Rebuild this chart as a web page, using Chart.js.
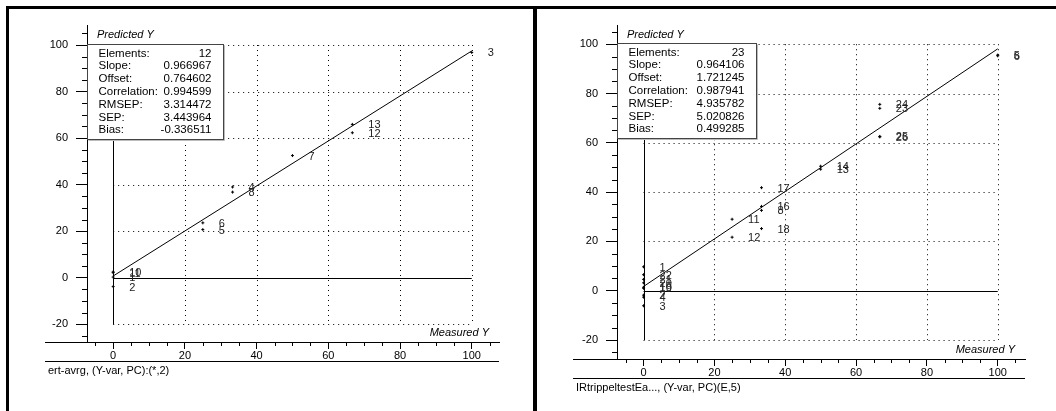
<!DOCTYPE html>
<html>
<head>
<meta charset="utf-8">
<script src="https://cdn.jsdelivr.net/npm/chart.js@4/dist/chart.umd.min.js"></script>
<style>
  body { margin: 0; background: #fff; width: 1056px; height: 411px; position: relative; overflow: hidden; }
  .bar { position: absolute; background: #000; }
  .panel { position: absolute; top: 9px; height: 402px; }
  canvas { display: block; }
</style>
</head>
<body>
<div class="bar" style="left:6px;top:6px;width:1050px;height:3px"></div>
<div class="bar" style="left:6px;top:6px;width:3px;height:405px"></div>
<div class="bar" style="left:533px;top:6px;width:4px;height:405px"></div>
<div class="panel" style="left:9px;width:524px"><canvas id="left" width="524" height="402"></canvas></div>
<div class="panel" style="left:537px;width:519px"><canvas id="right" width="519" height="402"></canvas></div>
<script>
// axis ticks (shared by both plots)
const xTicks = [0, 20, 40, 60, 80, 100];
const yTicks = [-20, 0, 20, 40, 60, 80, 100];
const minorStep = 5;

const statNames = ["Elements:", "Slope:", "Offset:", "Correlation:", "RMSEP:", "SEP:", "Bias:"];

// left plot
const leftIds = ["1", "2", "3", "4", "5", "6", "7", "8", "10", "11", "12", "13"];
const leftMeasured = [0, 0, 100, 33.3, 25, 25, 50, 33.3, 0, 0, 66.7, 66.7];
const leftPredicted = [0.3, -3.8, 96.8, 39.0, 20.7, 23.6, 52.5, 36.8, 2.5, 2.2, 62.3, 65.9];
const leftFitX = [0, 100];
const leftFitY = [0.76, 97.46];
const leftStats = ["12", "0.966967", "0.764602", "0.994599", "3.314472", "3.443964", "-0.336511"];
const leftCaption = "ert-avrg, (Y-var, PC):(*,2)";

// right plot
const rightIds = ["1", "2", "3", "4", "5", "6", "8", "10", "11", "12", "13", "14", "16", "17", "18",
  "19", "20", "21", "22", "23", "24", "25", "26"];
const rightMeasured = [0, 0, 0, 0, 100, 100, 33.3, 0, 25, 25, 50, 50, 33.3, 33.3, 33.3,
  0, 0, 0, 0, 66.7, 66.7, 66.7, 66.7];
const rightPredicted = [9.7, -1.8, -6.1, -2.6, 95.6, 95.3, 32.6, 1.4, 29.0, 21.7, 49.3, 50.5, 34.2, 41.8, 25.2,
  1.0, 3.2, 4.6, 6.5, 74.0, 75.6, 62.6, 62.4];
const rightFitX = [0, 100];
const rightFitY = [1.72, 98.13];
const rightStats = ["23", "0.964106", "1.721245", "0.987941", "4.935782", "5.020826", "0.499285"];
const rightCaption = "IRtrippeltestEa..., (Y-var, PC)(E,5)";

const FONT = '"Liberation Sans", Arial, sans-serif';

function hline(ctx, x1, x2, y) {
  y = Math.round(y) + 0.5;
  ctx.beginPath(); ctx.moveTo(x1, y); ctx.lineTo(x2, y); ctx.stroke();
}
function vline(ctx, x, y1, y2) {
  x = Math.round(x) + 0.5;
  ctx.beginPath(); ctx.moveTo(x, y1); ctx.lineTo(x, y2); ctx.stroke();
}

const predPlot = {
  id: "predPlot",
  beforeDatasetsDraw(chart) {
    const { ctx, scales: { x, y } } = chart;
    const x0 = x.getPixelForValue(0), x100 = x.getPixelForValue(100);
    const yLo = y.getPixelForValue(-20), yHi = y.getPixelForValue(100);
    ctx.save();
    ctx.strokeStyle = "#000";
    ctx.lineWidth = 1;
    ctx.setLineDash([1, 4]);
    xTicks.filter(v => v !== 0).forEach(v => vline(ctx, x.getPixelForValue(v), yHi, yLo));
    yTicks.filter(v => v !== 0).forEach(v => hline(ctx, x0, x100, y.getPixelForValue(v)));
    ctx.setLineDash([]);
    vline(ctx, x0, yHi, yLo);
    hline(ctx, x0, x100, y.getPixelForValue(0));
    ctx.restore();
  },
  afterDatasetsDraw(chart, args, opts) {
    const { ctx, chartArea: a, scales: { y } } = chart;
    const meta = chart.getDatasetMeta(0);
    ctx.save();
    ctx.font = "11px " + FONT;
    ctx.fillStyle = "#222";
    ctx.textBaseline = "middle";
    meta.data.forEach((pt, i) => ctx.fillText(opts.ids[i], pt.x + 16, pt.y + 1));

    // statistics box
    const bx = Math.round(a.left) + 0.5, by = Math.round(y.getPixelForValue(100)) - 0.5;
    const bw = opts.boxWidth, bh = 95;
    ctx.fillStyle = "#fff";
    ctx.fillRect(bx, by, bw, bh);
    ctx.strokeStyle = "#bbb";
    ctx.beginPath();
    ctx.moveTo(bx + bw + 1, by + 1); ctx.lineTo(bx + bw + 1, by + bh + 1); ctx.lineTo(bx + 1, by + bh + 1);
    ctx.stroke();
    ctx.strokeStyle = "#444";
    ctx.strokeRect(bx, by, bw, bh);
    ctx.fillStyle = "#000";
    ctx.font = "11.5px " + FONT;
    statNames.forEach((name, i) => {
      const ty = by + 9 + i * 12.8;
      ctx.textAlign = "left";
      ctx.fillText(name, bx + 11, ty);
      ctx.textAlign = "right";
      ctx.fillText(opts.stats[i], bx + bw - 12, ty);
    });
    ctx.restore();
  },
  afterDraw(chart, args, opts) {
    const { ctx, chartArea: a, scales: { x, y } } = chart;
    ctx.save();
    ctx.strokeStyle = "#000";
    ctx.lineWidth = 1;
    // minor ticks
    for (let v = -25; v <= 105; v += minorStep) {
      if (!xTicks.includes(v) && v >= x.min && v <= x.max) vline(ctx, x.getPixelForValue(v), a.bottom, a.bottom + 4);
      if (!yTicks.includes(v) && v >= y.min && v <= y.max) hline(ctx, a.left - 5, a.left, y.getPixelForValue(v));
    }
    // axis line running under the tick labels, and the line below them
    hline(ctx, 36, a.left, a.bottom);
    hline(ctx, 36, a.right, a.bottom + 19);
    ctx.fillStyle = "#000";
    ctx.textBaseline = "middle";
    ctx.font = "italic 11px " + FONT;
    ctx.textAlign = "left";
    ctx.fillText("Predicted Y", a.left + 10, a.top + 10);
    ctx.textAlign = "right";
    ctx.fillText("Measured Y", a.right - 10, a.bottom - 9);
    ctx.font = "11px " + FONT;
    ctx.textAlign = "left";
    ctx.fillText(opts.caption, 39, a.bottom + 29);
    ctx.restore();
  }
};

function makePlot(id, meas, pred, fitX, fitY, ids, stats, caption, view) {
  new Chart(document.getElementById(id), {
    type: "scatter",
    data: {
      datasets: [
        {
          data: meas.map((m, i) => ({ x: m, y: pred[i] })),
          pointStyle: "cross",
          pointRadius: 1.5,
          pointBorderWidth: 1,
          borderColor: "#000",
          backgroundColor: "#000"
        },
        {
          type: "line",
          data: fitX.map((m, i) => ({ x: m, y: fitY[i] })),
          borderColor: "#000",
          borderWidth: 1,
          pointRadius: 0,
          fill: false
        }
      ]
    },
    options: {
      responsive: false,
      animation: false,
      layout: { padding: view.padding },
      plugins: {
        legend: { display: false },
        tooltip: { enabled: false },
        predPlot: { ids: ids, stats: stats, caption: caption, boxWidth: view.boxWidth }
      },
      scales: {
        x: {
          type: "linear",
          min: view.x[0],
          max: view.x[1],
          afterBuildTicks: s => { s.ticks = xTicks.map(v => ({ value: v })); },
          afterFit: s => { s.height = 20; },
          grid: { drawOnChartArea: false, drawTicks: true, tickLength: 7, color: "#000" },
          border: { display: true, color: "#000" },
          ticks: { padding: 0, color: "#000", font: { family: FONT, size: 11 }, maxRotation: 0, autoSkip: false,
                   callback: v => String(v) }
        },
        y: {
          type: "linear",
          min: view.y[0],
          max: view.y[1],
          afterBuildTicks: s => { s.ticks = yTicks.map(v => ({ value: v })); },
          afterFit: s => { s.width = 60; },
          grid: { drawOnChartArea: false, drawTicks: true, tickLength: 11, color: "#000" },
          border: { display: true, color: "#000" },
          ticks: { padding: 8, color: "#000", font: { family: FONT, size: 11 }, autoSkip: false,
                   callback: v => String(v) }
        }
      }
    },
    plugins: [predPlot]
  });
}

makePlot("left", leftMeasured, leftPredicted, leftFitX, leftFitY, leftIds, leftStats, leftCaption,
  { x: [-7.3, 107.6], y: [-27.6, 108.6], padding: { left: 18, top: 16, right: 34, bottom: 49 }, boxWidth: 136 });
makePlot("right", rightMeasured, rightPredicted, rightFitX, rightFitY, rightIds, rightStats, rightCaption,
  { x: [-7.5, 107.7], y: [-27.7, 107.8], padding: { left: 20, top: 16, right: 31, bottom: 32 }, boxWidth: 139 });
</script>
</body>
</html>
